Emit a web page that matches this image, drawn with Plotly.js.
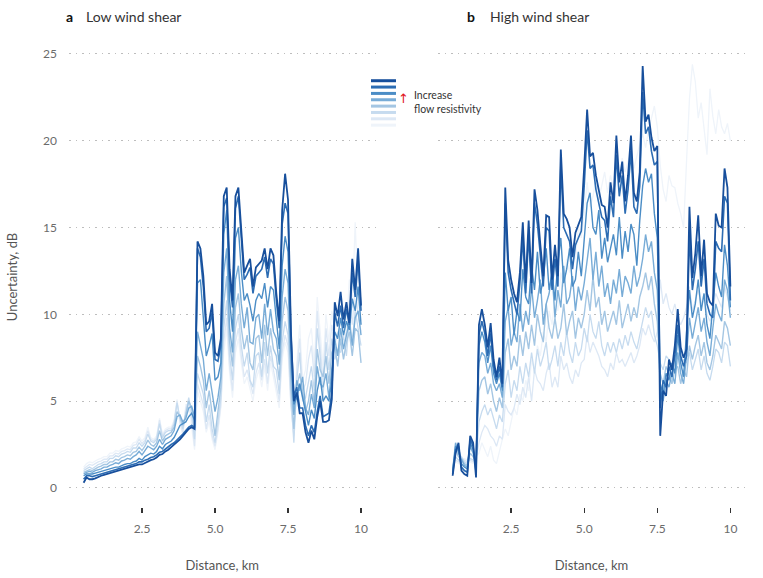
<!DOCTYPE html>
<html>
<head>
<meta charset="utf-8">
<script src="https://cdn.plot.ly/plotly-3.0.1.min.js"></script>
<style>html,body{margin:0;padding:0;background:#fff}#chart{width:763px;height:578px}</style>
</head>
<body>
<div id="chart"></div>
<script>
// Uncertainty vs distance, two panels (low / high wind shear), 8 flow-resistivity runs each.

const FONT = 'Lato, "Open Sans", sans-serif';

const DIST = [
  0.5, 0.6, 0.7, 0.8, 0.9,
  1.0, 1.1, 1.2, 1.3, 1.4, 1.5, 1.6, 1.7, 1.8, 1.9,
  2.0, 2.1, 2.2, 2.3, 2.4, 2.5, 2.6, 2.7, 2.8, 2.9,
  3.0, 3.1, 3.2, 3.3, 3.4, 3.5, 3.6, 3.7, 3.8, 3.9,
  4.0, 4.1, 4.2, 4.3, 4.4, 4.5, 4.6, 4.7, 4.8, 4.9,
  5.0, 5.1, 5.2, 5.3, 5.4, 5.5, 5.6, 5.7, 5.8, 5.9,
  6.0, 6.1, 6.2, 6.3, 6.4, 6.5, 6.6, 6.7, 6.8, 6.9,
  7.0, 7.1, 7.2, 7.3, 7.4, 7.5, 7.6, 7.7, 7.8, 7.9,
  8.0, 8.1, 8.2, 8.3, 8.4, 8.5, 8.6, 8.7, 8.8, 8.9,
  9.0, 9.1, 9.2, 9.3, 9.4, 9.5, 9.6, 9.7, 9.8, 9.9,
  10.0
];

// low wind shear, highest flow resistivity first
const low1 = [
  0.3, 0.6, 0.5, 0.5, 0.55,
  0.65, 0.7, 0.75, 0.8, 0.85, 0.9, 0.95, 1.0, 1.05, 1.1,
  1.15, 1.2, 1.25, 1.3, 1.35, 1.35, 1.45, 1.5, 1.6, 1.65,
  1.75, 1.9, 1.95, 2.1, 2.2, 2.35, 2.5, 2.6, 2.8, 3.0,
  3.2, 3.4, 3.5, 3.4, 14.2, 13.8, 12.2, 9.4, 9.6, 10.6,
  7.8, 7.6, 8.6, 16.8, 17.3, 12.6, 10.8, 16.8, 17.3, 15.0,
  12.4, 12.8, 13.2, 11.6, 12.7, 12.9, 13.1, 13.8, 12.6, 13.8,
  13.4, 11.2, 9.6, 16.0, 18.1, 16.6, 9.0, 5.0, 5.5, 4.3,
  4.3, 3.2, 2.6, 3.3, 2.8, 4.1, 5.0, 3.8, 3.8, 3.9,
  5.1, 10.7, 9.9, 11.3, 9.7, 10.7, 9.5, 13.2, 11.4, 13.8,
  10.5
];
const low2 = [
  0.5, 0.7, 0.7, 0.65, 0.7,
  0.75, 0.8, 0.85, 0.9, 0.95, 1.0, 1.05, 1.1, 1.15, 1.2,
  1.25, 1.3, 1.35, 1.4, 1.5, 1.5, 1.6, 1.65, 1.75, 1.8,
  1.9, 2.05, 2.1, 2.25, 2.35, 2.5, 2.6, 2.75, 2.95, 3.1,
  3.3, 3.5, 3.6, 3.5, 13.8, 13.3, 11.6, 9.0, 9.2, 10.1,
  7.4, 7.3, 8.2, 16.2, 16.7, 12.0, 10.4, 16.1, 16.8, 14.4,
  12.0, 12.3, 12.7, 11.2, 12.2, 12.4, 12.6, 13.3, 12.1, 13.2,
  12.9, 10.8, 9.2, 15.2, 16.4, 15.8, 8.8, 5.3, 5.8, 4.6,
  4.6, 3.6, 3.0, 3.6, 3.2, 4.4, 5.3, 4.1, 4.2, 4.3,
  5.5, 10.1, 9.3, 10.5, 9.2, 10.3, 9.4, 12.4, 11.0, 13.2,
  10.2
];
const low3 = [
  0.7, 0.8, 0.8, 0.8, 0.85,
  0.9, 0.95, 1.0, 1.05, 1.1, 1.15, 1.2, 1.2, 1.3, 1.35,
  1.4, 1.4, 1.5, 1.55, 1.7, 1.6, 1.8, 1.9, 2.0, 1.95,
  2.1, 2.4, 2.25, 2.5, 2.6, 2.7, 2.9, 3.3, 3.6, 3.7,
  3.8, 4.1, 4.3, 3.9, 11.8, 12.0, 10.0, 7.6, 8.2, 8.9,
  6.2, 6.4, 7.2, 14.6, 16.0, 10.8, 9.0, 14.4, 15.0, 12.5,
  10.8, 11.2, 10.5, 9.6, 10.8, 11.2, 10.9, 11.8, 10.4, 11.6,
  11.4, 9.5, 8.0, 12.8, 14.5, 13.6, 7.8, 4.8, 5.2, 6.0,
  5.2, 4.2, 3.6, 4.5, 4.0, 5.6, 6.4, 5.0, 5.3, 5.0,
  6.2, 9.0, 8.6, 9.8, 8.8, 9.6, 9.1, 10.9, 10.2, 11.6,
  9.4
];
const low4 = [
  0.8, 0.9, 0.95, 0.9, 1.0,
  1.05, 1.1, 1.2, 1.2, 1.3, 1.35, 1.45, 1.4, 1.55, 1.6,
  1.7, 1.65, 1.8, 1.9, 2.1, 1.9, 2.15, 2.4, 2.3, 2.2,
  2.4, 2.8, 2.5, 2.8, 2.9, 3.0, 3.3, 4.1, 4.2, 3.8,
  4.0, 4.6, 4.7, 4.1, 9.0, 8.2, 7.4, 5.6, 6.6, 5.5,
  4.4, 5.2, 6.4, 12.4, 13.8, 9.2, 7.8, 12.0, 12.8, 10.6,
  9.2, 10.4, 8.4, 8.3, 9.8, 10.0, 8.6, 10.6, 8.8, 10.3,
  9.0, 8.6, 7.1, 11.0, 12.6, 11.8, 7.0, 4.2, 6.2, 5.6,
  6.4, 4.6, 4.2, 5.4, 4.6, 7.0, 6.0, 5.8, 6.6, 5.2,
  6.8, 8.6, 7.6, 9.2, 8.0, 8.8, 9.6, 8.2, 9.8, 10.2,
  8.8
];
const low5 = [
  0.9, 1.0, 1.05, 1.0, 1.1,
  1.2, 1.25, 1.35, 1.35, 1.5, 1.5, 1.65, 1.6, 1.75, 1.8,
  1.9, 1.85, 2.05, 2.1, 2.35, 2.15, 2.4, 2.75, 2.5, 2.4,
  2.6, 3.3, 2.7, 3.0, 3.1, 3.2, 3.5, 4.4, 4.1, 3.6,
  4.2, 5.0, 4.6, 3.5, 7.6, 7.0, 6.2, 4.6, 5.6, 4.2,
  3.0, 4.4, 5.8, 10.6, 12.2, 8.4, 7.0, 10.4, 11.2, 9.2,
  8.0, 8.8, 7.2, 6.8, 8.6, 8.8, 7.2, 9.4, 7.6, 9.2,
  8.0, 7.6, 6.2, 9.6, 11.0, 10.2, 6.0, 3.4, 5.8, 6.6,
  5.6, 4.4, 5.0, 6.2, 4.8, 8.0, 6.8, 6.4, 7.6, 6.0,
  7.8, 8.2, 7.0, 8.6, 7.4, 8.4, 9.0, 7.6, 9.2, 9.0,
  7.2
];
const low6 = [
  1.0, 1.1, 1.2, 1.1, 1.25,
  1.35, 1.4, 1.5, 1.5, 1.7, 1.7, 1.85, 1.8, 1.95, 2.0,
  2.1, 2.05, 2.3, 2.3, 2.6, 2.4, 2.6, 3.1, 2.7, 2.6,
  2.8, 3.7, 2.9, 3.2, 3.3, 3.3, 3.7, 4.9, 4.0, 3.4,
  4.4, 5.2, 4.3, 2.8, 6.6, 6.0, 5.4, 3.8, 4.8, 3.4,
  2.6, 3.8, 5.2, 9.2, 10.8, 7.6, 6.2, 9.2, 10.0, 8.2,
  7.0, 7.8, 6.2, 5.8, 7.6, 7.8, 6.4, 8.4, 6.6, 8.2,
  7.0, 6.8, 5.4, 8.4, 9.6, 8.8, 5.2, 2.6, 6.2, 7.8,
  5.0, 5.2, 6.0, 7.0, 5.6, 9.2, 7.6, 5.2, 8.4, 6.8,
  8.6, 7.4, 8.0, 7.8, 8.8, 7.6, 9.8, 8.4, 10.2, 9.2,
  8.2
];
const low7 = [
  1.1, 1.25, 1.35, 1.3, 1.4,
  1.5, 1.55, 1.65, 1.65, 1.85, 1.85, 2.0, 1.95, 2.1, 2.15,
  2.25, 2.2, 2.45, 2.5, 2.8, 2.55, 2.75, 3.3, 2.8, 2.7,
  2.9, 3.9, 3.0, 3.3, 3.4, 3.4, 3.8, 5.0, 3.8, 3.2,
  4.6, 5.0, 3.9, 2.4, 6.0, 5.4, 4.8, 3.4, 4.2, 3.0,
  2.4, 3.4, 4.8, 8.4, 9.8, 7.0, 5.6, 8.4, 9.2, 7.6,
  6.4, 6.8, 6.0, 5.4, 6.6, 7.2, 6.2, 7.4, 6.0, 7.6,
  6.8, 6.0, 5.0, 7.8, 8.8, 8.2, 4.8, 3.0, 6.8, 8.6,
  5.6, 6.0, 7.4, 8.2, 6.4, 10.2, 8.4, 6.2, 9.2, 7.6,
  9.4, 8.2, 9.0, 8.6, 9.6, 8.4, 10.8, 9.4, 11.6, 10.0,
  9.0
];
const low8 = [
  1.2, 1.4, 1.5, 1.45, 1.55,
  1.65, 1.7, 1.8, 1.8, 2.0, 2.0, 2.15, 2.1, 2.25, 2.3,
  2.4, 2.35, 2.6, 2.65, 2.95, 2.7, 2.9, 3.5, 2.9, 2.8,
  3.0, 4.0, 3.1, 3.4, 3.5, 3.5, 3.9, 5.1, 3.7, 3.0,
  4.8, 4.8, 3.6, 2.2, 5.6, 5.0, 4.4, 3.2, 3.8, 2.8,
  2.2, 3.2, 4.6, 7.8, 9.2, 6.6, 5.2, 7.8, 8.6, 7.2,
  6.0, 6.4, 5.6, 5.0, 6.2, 6.8, 5.8, 7.0, 5.6, 7.2,
  6.4, 5.6, 4.6, 7.4, 8.4, 7.8, 4.6, 3.4, 7.2, 9.4,
  6.2, 6.8, 8.6, 9.2, 7.0, 11.0, 9.2, 7.0, 10.0, 8.4,
  10.2, 9.0, 9.8, 9.4, 10.4, 9.2, 12.0, 10.4, 15.3, 10.8,
  9.6
];

// high wind shear
const high1 = [
  0.7, 2.0, 2.6, 1.0, 0.8,
  0.7, 3.0, 2.6, 0.6, 9.4, 10.3, 9.4, 8.1, 9.5, 7.4,
  6.4, 7.5, 6.0, 17.3, 13.1, 12.0, 11.2, 10.7, 12.4, 15.3,
  11.8, 15.4, 11.8, 17.2, 16.0, 14.0, 12.2, 15.7, 15.6, 12.0,
  14.0, 12.2, 19.5, 15.8, 15.5, 15.0, 13.3, 14.7, 15.2, 15.6,
  18.5, 21.8, 19.1, 19.3, 18.0, 17.2, 16.3, 16.2, 15.0, 17.6,
  16.4, 20.3, 17.6, 18.8, 16.5, 18.0, 20.3, 17.0, 16.5, 18.2,
  24.3, 21.1, 21.5, 20.2, 19.4, 19.7, 3.0, 5.6, 5.3, 7.4,
  6.8, 8.2, 10.3, 8.1, 7.5, 8.0, 16.2, 12.1, 13.5, 15.7,
  12.2, 14.3, 11.2, 10.7, 10.5, 15.8, 15.1, 15.0, 18.4, 17.3,
  11.6
];
const high2 = [
  0.8, 2.2, 2.4, 1.2, 1.0,
  0.9, 2.8, 2.4, 0.9, 8.8, 9.6, 8.9, 7.6, 8.9, 7.0,
  6.2, 7.0, 5.8, 16.4, 12.4, 11.4, 10.6, 10.0, 11.8, 14.4,
  11.2, 14.6, 11.2, 16.4, 15.2, 13.4, 11.6, 15.0, 14.8, 11.4,
  13.2, 11.6, 18.6, 15.0, 14.6, 14.2, 12.6, 14.0, 14.4, 14.8,
  17.4, 20.6, 18.4, 18.6, 17.2, 16.4, 15.6, 15.4, 14.2, 16.8,
  15.6, 19.2, 16.8, 18.0, 15.8, 17.2, 19.4, 16.2, 15.8, 17.4,
  22.8, 20.4, 20.8, 19.4, 18.6, 18.8, 4.6, 6.2, 5.8, 7.0,
  6.4, 7.6, 9.4, 7.6, 7.0, 7.6, 14.6, 11.4, 12.6, 14.2,
  11.6, 13.2, 10.6, 10.0, 9.8, 14.2, 13.8, 13.6, 16.8, 16.4,
  10.8
];
const high3 = [
  0.9, 2.4, 2.2, 1.4, 1.2,
  1.1, 2.6, 2.2, 1.2, 8.2, 9.0, 8.4, 7.2, 8.2, 6.6,
  6.0, 6.6, 5.6, 12.4, 10.2, 11.0, 8.8, 10.2, 9.6, 12.6,
  11.0, 10.6, 12.8, 11.4, 13.6, 11.2, 12.0, 13.8, 11.4, 12.4,
  10.8, 13.0, 14.4, 11.8, 12.6, 13.8, 11.6, 12.0, 13.6, 12.2,
  14.2, 16.4, 17.0, 15.0, 14.6, 16.0, 13.2, 14.4, 13.0, 13.8,
  14.6, 13.4, 15.6, 13.2, 14.8, 13.6, 15.2, 14.6, 12.8, 15.4,
  17.4, 18.4, 17.6, 18.1, 15.8, 14.4, 6.0, 5.4, 6.6, 6.2,
  7.2, 6.6, 8.8, 7.2, 6.4, 9.0, 11.4, 9.8, 10.6, 12.0,
  10.2, 11.2, 9.4, 8.6, 10.4, 12.4, 11.6, 11.0, 14.0, 12.8,
  10.4
];
const high4 = [
  1.0, 2.6, 2.0, 1.6, 1.3,
  1.2, 2.4, 2.0, 1.4, 7.2, 7.8, 7.6, 6.6, 7.2, 6.0,
  5.6, 6.0, 5.2, 9.6, 10.4, 8.2, 9.0, 8.4, 10.6, 9.0,
  10.2, 9.4, 11.6, 9.8, 10.8, 12.0, 9.4, 10.6, 11.2, 12.4,
  9.8, 11.4, 10.4, 12.8, 10.6, 11.0, 12.2, 10.2, 11.6, 10.8,
  11.8, 13.0, 14.4, 12.0, 13.6, 11.6, 12.8, 11.0, 11.8, 10.6,
  12.0, 11.2, 12.6, 11.0, 12.2, 11.8, 11.2, 12.8, 11.6, 12.2,
  13.2, 14.6, 13.6, 14.2, 12.4, 11.4, 5.6, 5.0, 6.2, 5.8,
  6.6, 6.0, 7.8, 6.6, 6.0, 7.6, 9.8, 8.6, 9.4, 10.4,
  9.0, 9.8, 8.4, 7.6, 9.2, 10.6, 10.0, 9.6, 12.0, 11.4,
  9.8
];
const high5 = [
  1.1, 2.2, 1.8, 1.7, 1.4,
  1.3, 2.0, 1.8, 1.5, 5.6, 6.2, 6.4, 5.4, 6.0, 5.0,
  4.4, 5.2, 4.6, 7.8, 8.6, 6.8, 7.6, 7.0, 8.8, 7.6,
  9.0, 8.0, 9.4, 8.2, 10.0, 9.0, 8.4, 10.6, 9.2, 8.6,
  9.8, 8.6, 9.2, 10.6, 8.8, 9.6, 10.2, 8.6, 9.8, 9.2,
  10.0, 11.4, 10.2, 12.2, 10.4, 11.0, 9.4, 10.2, 9.0, 9.6,
  10.2, 9.4, 10.8, 9.2, 10.0, 10.6, 9.6, 10.4, 9.8, 11.0,
  11.6, 12.4, 11.4, 12.2, 10.6, 9.6, 6.6, 6.0, 7.0, 6.6,
  6.0, 6.8, 7.0, 6.0, 6.8, 6.4, 8.2, 7.4, 8.2, 8.8,
  7.6, 8.4, 7.2, 6.8, 7.6, 8.8, 8.4, 8.0, 9.6, 9.2,
  8.2
];
const high6 = [
  1.2, 1.8, 1.6, 1.8, 1.5,
  1.4, 1.7, 1.6, 1.6, 3.8, 4.4, 4.8, 4.2, 4.6, 4.0,
  3.4, 4.2, 3.8, 6.0, 6.8, 5.2, 6.2, 5.6, 7.0, 6.0,
  7.2, 6.4, 7.8, 6.6, 8.0, 7.0, 7.6, 8.4, 6.8, 7.4,
  8.2, 7.0, 8.4, 7.6, 9.0, 7.8, 7.2, 8.4, 7.6, 8.0,
  9.2, 8.4, 10.0, 9.0, 8.6, 9.6, 8.2, 7.6, 8.4, 7.8,
  8.4, 7.8, 8.6, 8.0, 8.8, 8.2, 9.0, 8.4, 8.0, 8.8,
  9.6, 10.4, 9.8, 10.2, 8.8, 8.2, 7.2, 6.8, 7.6, 7.4,
  6.8, 7.6, 7.8, 6.8, 7.4, 7.2, 7.8, 6.8, 7.4, 8.0,
  6.8, 7.6, 6.6, 6.2, 7.0, 8.0, 7.8, 7.2, 8.4, 8.2,
  7.0
];
const high7 = [
  1.3, 1.6, 1.5, 1.7, 1.6,
  1.5, 1.6, 1.5, 1.7, 2.6, 3.2, 3.6, 3.4, 3.0, 2.8,
  2.4, 3.0, 2.8, 4.8, 4.4, 4.2, 4.6, 5.4, 4.8, 5.8,
  5.2, 6.4, 5.0, 6.8, 6.2, 6.0, 5.6, 6.6, 7.2, 5.8,
  6.4, 5.8, 7.6, 6.8, 7.2, 6.4, 6.0, 6.8, 6.4, 7.2,
  7.4, 8.8, 7.8, 8.4, 8.0, 7.6, 7.0, 6.8, 6.4, 7.2,
  6.8, 7.8, 7.2, 7.4, 7.0, 7.4, 7.8, 7.2, 7.6, 8.2,
  9.2, 8.8, 9.4, 8.8, 8.4, 9.0, 12.0, 10.6, 11.2, 10.4,
  10.0, 10.6, 9.8, 9.4, 9.8, 10.4, 11.6, 10.2, 10.8, 11.4,
  10.6, 11.2, 10.0, 9.6, 10.4, 11.2, 10.8, 10.4, 11.6, 11.0,
  10.2
];
const high8 = [
  1.4, 1.5, 1.4, 1.6, 1.7,
  1.6, 1.5, 1.4, 1.8, 2.0, 2.6, 2.2, 1.8, 2.4, 1.6,
  1.4, 2.2, 2.8, 3.4, 3.0, 3.8, 4.6, 4.2, 5.4, 5.0,
  6.2, 5.6, 7.4, 6.8, 8.2, 7.6, 9.0, 8.4, 10.2, 9.4,
  11.0, 10.2, 12.4, 11.6, 13.2, 12.4, 14.0, 13.2, 15.0, 14.4,
  15.8, 17.6, 16.2, 16.8, 17.8, 16.6, 17.4, 18.2, 17.0, 18.0,
  17.2, 18.6, 17.8, 19.0, 18.2, 18.8, 19.4, 18.4, 19.2, 19.8,
  20.4, 19.6, 20.6, 21.4, 22.0, 20.8, 18.6, 17.2, 16.5, 18.0,
  17.4, 17.3, 16.4, 15.8, 15.0, 18.8, 22.4, 24.4, 23.4, 21.3,
  22.2, 20.7, 19.2, 23.0, 21.4, 20.4, 21.8, 20.8, 20.4, 21.0,
  20.0
];

const LOW = [low1, low2, low3, low4, low5, low6, low7, low8];
const HIGH = [high1, high2, high3, high4, high5, high6, high7, high8];
const SHADES = ['#174f9c', '#2c6cb3', '#4b8dc6', '#78acd7', '#a4c6e3', '#c6dbef', '#dde8f5', '#eff4fa'];
const WIDTHS = [1.8, 1.6, 1.4, 1.4, 1.4, 1.3, 1.3, 1.3];

// lightest first so the dark runs sit on top
function panelTraces(series, xa, ya) {
  const out = [];
  for (let k = series.length - 1; k >= 0; k--) {
    out.push({
      x: DIST, y: series[k], xaxis: xa, yaxis: ya,
      type: 'scatter', mode: 'lines', hoverinfo: 'skip', showlegend: false,
      line: { color: SHADES[k], width: WIDTHS[k] },
    });
  }
  return out;
}

const traces = [...panelTraces(LOW, 'x', 'y'), ...panelTraces(HIGH, 'x2', 'y2')];

const TICK_FONT = { family: FONT, size: 12, color: '#6b6b6b' };
const TITLE_FONT = { family: FONT, size: 13, color: '#555' };

function xAxis(domain, anchor) {
  return {
    domain, anchor, range: [0, 10.5],
    tickvals: [2.5, 5, 7.5, 10], ticktext: ['2.5', '5.0', '7.5', '10'],
    ticks: 'outside', ticklen: 5, tickwidth: 1.3, tickcolor: '#333',
    ticklabelstandoff: 6,
    showgrid: false, zeroline: false, showline: false,
    tickfont: TICK_FONT,
    title: { text: 'Distance, km', font: TITLE_FONT, standoff: 25 },
  };
}

function yAxis(anchor, labels) {
  return {
    anchor, range: [-1.1, 25.4],
    tickvals: [0, 5, 10, 15, 20, 25],
    showticklabels: labels, ticks: '',
    ticklabelstandoff: 11,
    showgrid: true, gridcolor: '#bdbdbd', griddash: '1.5px,5px', gridwidth: 1,
    zeroline: false, showline: false,
    tickfont: TICK_FONT,
  };
}

const yLeft = yAxis('x', true);
yLeft.title = { text: 'Uncertainty, dB', font: TITLE_FONT, standoff: 22 };
const yRight = yAxis('x2', false);
yRight.matches = 'y';

// legend key: stacked swatches + note
const shapes = SHADES.map((c, i) => ({
  type: 'line', xref: 'paper', yref: 'paper',
  x0: 0.4467, x1: 0.4837, y0: 0.9267 - i * 0.0138, y1: 0.9267 - i * 0.0138,
  line: { color: c, width: 3 },
}));

const annotations = [
  { xref: 'paper', yref: 'paper', x: -0.007, y: 1.067, xanchor: 'left', yanchor: 'middle', showarrow: false,
    text: '<b>a</b>', font: { family: FONT, size: 14, color: '#111' } },
  { xref: 'paper', yref: 'paper', x: 0.0222, y: 1.067, xanchor: 'left', yanchor: 'middle', showarrow: false,
    text: 'Low wind shear', font: { family: FONT, size: 14, color: '#333' } },
  { xref: 'paper', yref: 'paper', x: 0.5858, y: 1.067, xanchor: 'left', yanchor: 'middle', showarrow: false,
    text: '<b>b</b>', font: { family: FONT, size: 14, color: '#111' } },
  { xref: 'paper', yref: 'paper', x: 0.6198, y: 1.067, xanchor: 'left', yanchor: 'middle', showarrow: false,
    text: 'High wind shear', font: { family: FONT, size: 14, color: '#333' } },
  { xref: 'paper', yref: 'paper', x: 0.4945, y: 0.889, xanchor: 'center', yanchor: 'middle', showarrow: false,
    text: '↑', font: { family: 'DejaVu Sans', size: 13, color: '#e0141e' } },
  { xref: 'paper', yref: 'paper', x: 0.5075, y: 0.881, xanchor: 'left', yanchor: 'middle', align: 'left', showarrow: false,
    text: 'Increase<br>flow resistivity', font: { family: FONT, size: 10.5, color: '#333' } },
];

const layout = {
  width: 763, height: 578,
  margin: { l: 69, r: 18, t: 47, b: 71 },
  paper_bgcolor: '#fff', plot_bgcolor: '#fff',
  font: { family: FONT, color: '#555' },
  showlegend: false,
  xaxis: xAxis([0, 0.4536], 'y'),
  yaxis: yLeft,
  xaxis2: xAxis([0.5459, 1], 'y2'),
  yaxis2: yRight,
  shapes, annotations,
};

Plotly.newPlot('chart', traces, layout, { displayModeBar: false, staticPlot: true });
</script>
</body>
</html>
